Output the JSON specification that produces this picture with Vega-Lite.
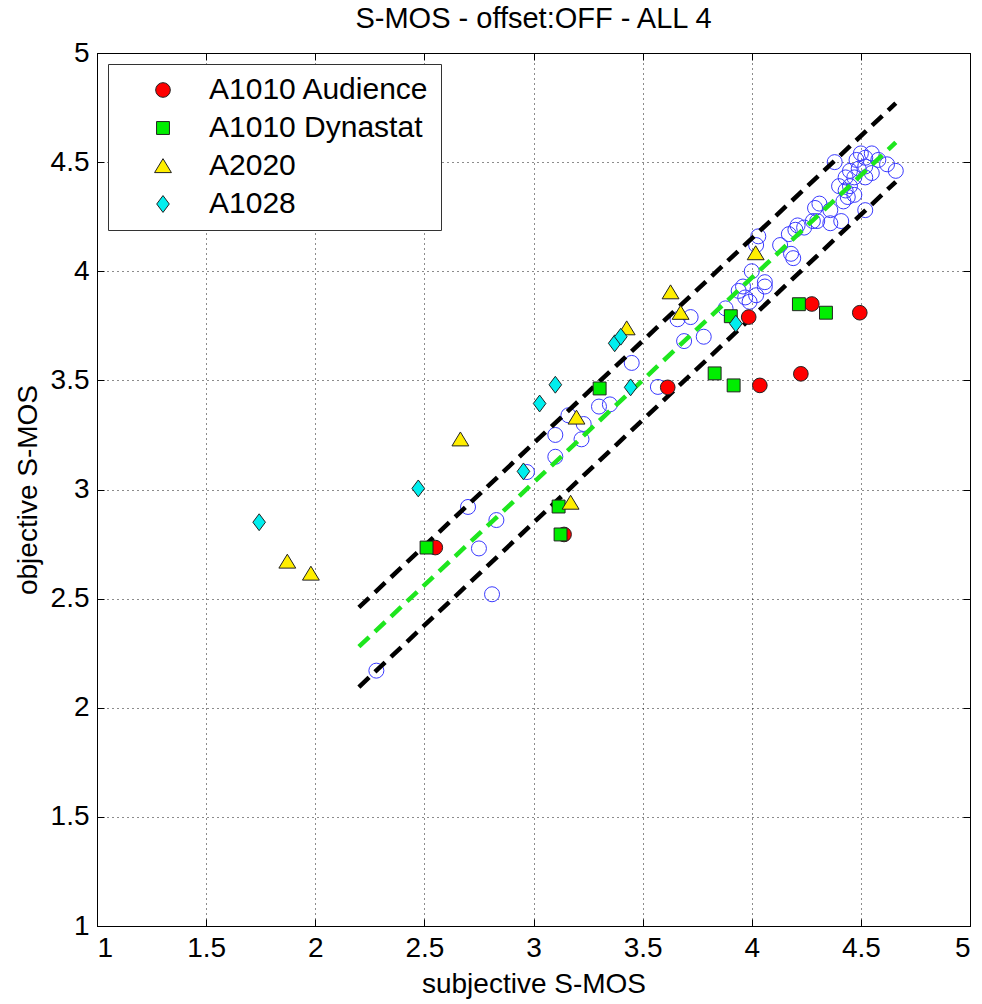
{
  "$schema": "https://vega.github.io/schema/vega-lite/v6.json",
  "width": 873,
  "height": 873,
  "autosize": {"type": "none"},
  "padding": {"left": 97, "top": 53, "right": 12, "bottom": 78},
  "background": "white",
  "title": {"text": "S-MOS - offset:OFF - ALL 4", "fontSize": 29, "font": "Liberation Sans", "fontWeight": "normal", "color": "black", "offset": 5, "anchor": "middle"},
  "config": {
    "view": {"stroke": "black", "strokeWidth": 1},
    "font": "Liberation Sans",
    "axis": {
      "labelFont": "Liberation Sans", "labelFontSize": 28, "labelColor": "black",
      "titleFont": "Liberation Sans", "titleFontSize": 28, "titleFontWeight": "normal", "titleColor": "black",
      "domainColor": "black", "tickColor": "black", "tickSize": -7, "labelPadding": 15,
      "gridColor": "black", "gridDash": [1, 4], "gridOpacity": 0.9, "gridWidth": 1
    }
  },
  "datasets": {
    "blue": [
      {"x": 2.28, "y": 2.17}, {"x": 2.81, "y": 2.52}, {"x": 2.75, "y": 2.73}, {"x": 2.70, "y": 2.92},
      {"x": 2.83, "y": 2.86}, {"x": 2.97, "y": 3.08}, {"x": 3.10, "y": 3.15}, {"x": 3.10, "y": 3.25},
      {"x": 3.22, "y": 3.23}, {"x": 3.16, "y": 3.34}, {"x": 3.23, "y": 3.30}, {"x": 3.30, "y": 3.38},
      {"x": 3.35, "y": 3.39}, {"x": 3.45, "y": 3.58}, {"x": 3.57, "y": 3.47}, {"x": 3.66, "y": 3.78},
      {"x": 3.72, "y": 3.79}, {"x": 3.69, "y": 3.68}, {"x": 3.78, "y": 3.70}, {"x": 3.88, "y": 3.83},
      {"x": 3.94, "y": 3.91}, {"x": 3.96, "y": 3.93}, {"x": 3.97, "y": 3.88}, {"x": 3.99, "y": 3.86},
      {"x": 4.00, "y": 4.00}, {"x": 4.02, "y": 3.89}, {"x": 4.06, "y": 3.95}, {"x": 4.06, "y": 3.93},
      {"x": 4.03, "y": 4.16}, {"x": 4.02, "y": 4.12}, {"x": 4.13, "y": 4.12}, {"x": 4.18, "y": 4.08},
      {"x": 4.19, "y": 4.06}, {"x": 4.17, "y": 4.17}, {"x": 4.20, "y": 4.19}, {"x": 4.24, "y": 4.20},
      {"x": 4.21, "y": 4.21}, {"x": 4.28, "y": 4.23}, {"x": 4.30, "y": 4.23}, {"x": 4.29, "y": 4.29},
      {"x": 4.31, "y": 4.31}, {"x": 4.36, "y": 4.28}, {"x": 4.36, "y": 4.22}, {"x": 4.41, "y": 4.23},
      {"x": 4.42, "y": 4.32}, {"x": 4.44, "y": 4.34}, {"x": 4.47, "y": 4.35}, {"x": 4.43, "y": 4.37},
      {"x": 4.40, "y": 4.39}, {"x": 4.45, "y": 4.39}, {"x": 4.43, "y": 4.43}, {"x": 4.47, "y": 4.43},
      {"x": 4.52, "y": 4.43}, {"x": 4.45, "y": 4.46}, {"x": 4.49, "y": 4.47}, {"x": 4.52, "y": 4.48},
      {"x": 4.55, "y": 4.45}, {"x": 4.38, "y": 4.50}, {"x": 4.48, "y": 4.51}, {"x": 4.50, "y": 4.54},
      {"x": 4.52, "y": 4.52}, {"x": 4.55, "y": 4.54}, {"x": 4.58, "y": 4.51}, {"x": 4.62, "y": 4.49},
      {"x": 4.66, "y": 4.46}, {"x": 4.52, "y": 4.28}
    ],
    "lines": [
      {"line": "upper", "x": 2.20, "y": 2.46}, {"line": "upper", "x": 4.66, "y": 4.77},
      {"line": "lower", "x": 2.20, "y": 2.095}, {"line": "lower", "x": 4.66, "y": 4.41}
    ],
    "fit": [
      {"x": 2.20, "y": 2.28}, {"x": 4.66, "y": 4.59}
    ],
    "series": [
      {"series": "A1010 Audience", "x": 2.55, "y": 2.734},
      {"series": "A1010 Audience", "x": 3.14, "y": 2.794},
      {"series": "A1010 Audience", "x": 3.615, "y": 3.468},
      {"series": "A1010 Audience", "x": 3.986, "y": 3.79},
      {"series": "A1010 Audience", "x": 4.037, "y": 3.477},
      {"series": "A1010 Audience", "x": 4.225, "y": 3.53},
      {"series": "A1010 Audience", "x": 4.275, "y": 3.85},
      {"series": "A1010 Audience", "x": 4.495, "y": 3.81},
      {"series": "A1010 Dynastat", "x": 2.51, "y": 2.734},
      {"series": "A1010 Dynastat", "x": 3.115, "y": 2.922},
      {"series": "A1010 Dynastat", "x": 3.124, "y": 2.794},
      {"series": "A1010 Dynastat", "x": 3.303, "y": 3.463},
      {"series": "A1010 Dynastat", "x": 3.83, "y": 3.532},
      {"series": "A1010 Dynastat", "x": 3.904, "y": 3.794},
      {"series": "A1010 Dynastat", "x": 3.917, "y": 3.477},
      {"series": "A1010 Dynastat", "x": 4.216, "y": 3.849},
      {"series": "A1010 Dynastat", "x": 4.34, "y": 3.81},
      {"series": "A2020", "x": 1.872, "y": 2.67},
      {"series": "A2020", "x": 1.98, "y": 2.615},
      {"series": "A2020", "x": 2.665, "y": 3.23},
      {"series": "A2020", "x": 3.17, "y": 2.94},
      {"series": "A2020", "x": 3.197, "y": 3.33},
      {"series": "A2020", "x": 3.427, "y": 3.739},
      {"series": "A2020", "x": 3.628, "y": 3.904},
      {"series": "A2020", "x": 3.674, "y": 3.81},
      {"series": "A2020", "x": 4.018, "y": 4.083},
      {"series": "A1028", "x": 1.743, "y": 2.85},
      {"series": "A1028", "x": 2.472, "y": 3.005},
      {"series": "A1028", "x": 2.954, "y": 3.083},
      {"series": "A1028", "x": 3.028, "y": 3.394},
      {"series": "A1028", "x": 3.10, "y": 3.48},
      {"series": "A1028", "x": 3.372, "y": 3.67},
      {"series": "A1028", "x": 3.40, "y": 3.70},
      {"series": "A1028", "x": 3.445, "y": 3.468},
      {"series": "A1028", "x": 3.927, "y": 3.76}
    ]
  },
  "resolve": {"axis": {"x": "independent", "y": "independent"}},
  "layer": [
    {
      "data": {"name": "blue"},
      "mark": {"type": "point", "shape": "circle", "filled": false, "stroke": "#3a3aff", "strokeWidth": 1, "size": 225, "opacity": 1},
      "encoding": {
        "x": {"field": "x", "type": "quantitative", "scale": {"domain": [1, 5], "nice": false, "zero": false},
              "axis": {"values": [1, 1.5, 2, 2.5, 3, 3.5, 4, 4.5, 5], "format": "~g", "title": "subjective S-MOS", "titlePadding": 8, "grid": true}},
        "y": {"field": "y", "type": "quantitative", "scale": {"domain": [1, 5], "nice": false, "zero": false},
              "axis": {"values": [1, 1.5, 2, 2.5, 3, 3.5, 4, 4.5, 5], "format": "~g", "title": "objective S-MOS", "titlePadding": 8, "grid": true}}
      }
    },
    {
      "data": {"name": "lines"},
      "mark": {"type": "line", "color": "black", "strokeWidth": 4.5, "strokeDash": [14, 8], "strokeCap": "butt"},
      "encoding": {
        "x": {"field": "x", "type": "quantitative", "axis": null},
        "y": {"field": "y", "type": "quantitative", "axis": null},
        "detail": {"field": "line"}
      }
    },
    {
      "data": {"name": "fit"},
      "mark": {"type": "line", "color": "#1ee61e", "strokeWidth": 4.5, "strokeDash": [14, 8], "strokeCap": "butt"},
      "encoding": {
        "x": {"field": "x", "type": "quantitative", "axis": null},
        "y": {"field": "y", "type": "quantitative", "axis": null}
      }
    },
    {
      "data": {"name": "series"},
      "mark": {"type": "point", "filled": true, "size": 215, "stroke": "#222222", "strokeWidth": 1, "opacity": 1, "fillOpacity": 1},
      "encoding": {
        "x": {"field": "x", "type": "quantitative",
              "axis": {"orient": "top", "values": [1, 1.5, 2, 2.5, 3, 3.5, 4, 4.5, 5], "labels": false, "title": null, "grid": false, "domain": false}},
        "y": {"field": "y", "type": "quantitative",
              "axis": {"orient": "right", "values": [1, 1.5, 2, 2.5, 3, 3.5, 4, 4.5, 5], "labels": false, "title": null, "grid": false, "domain": false}},
        "color": {"field": "series", "type": "nominal",
                  "scale": {"domain": ["A1010 Audience", "A1010 Dynastat", "A2020", "A1028"], "range": ["#ff0000", "#00ee00", "#ffee00", "#00eeee"]},
                  "legend": {"orient": "none", "legendX": 11, "legendY": 11, "title": null, "strokeColor": "#333333", "fillColor": "white",
                             "padding": 11, "symbolOffset": 29, "labelOffset": 31, "labelFontSize": 30, "labelFont": "Liberation Sans", "labelColor": "black",
                             "rowPadding": 8, "symbolSize": 215, "symbolStrokeColor": "#222222", "symbolStrokeWidth": 1, "labelLimit": 500}},
        "shape": {"field": "series", "type": "nominal",
                  "scale": {"domain": ["A1010 Audience", "A1010 Dynastat", "A2020", "A1028"],
                            "range": ["circle", "M-0.88,-0.88L0.88,-0.88L0.88,0.88L-0.88,0.88Z", "M0,-1.0L1.15,0.9L-1.15,0.9Z", "M0,-1.15L0.86,0L0,1.15L-0.86,0Z"]}}
      }
    }
  ]
}
